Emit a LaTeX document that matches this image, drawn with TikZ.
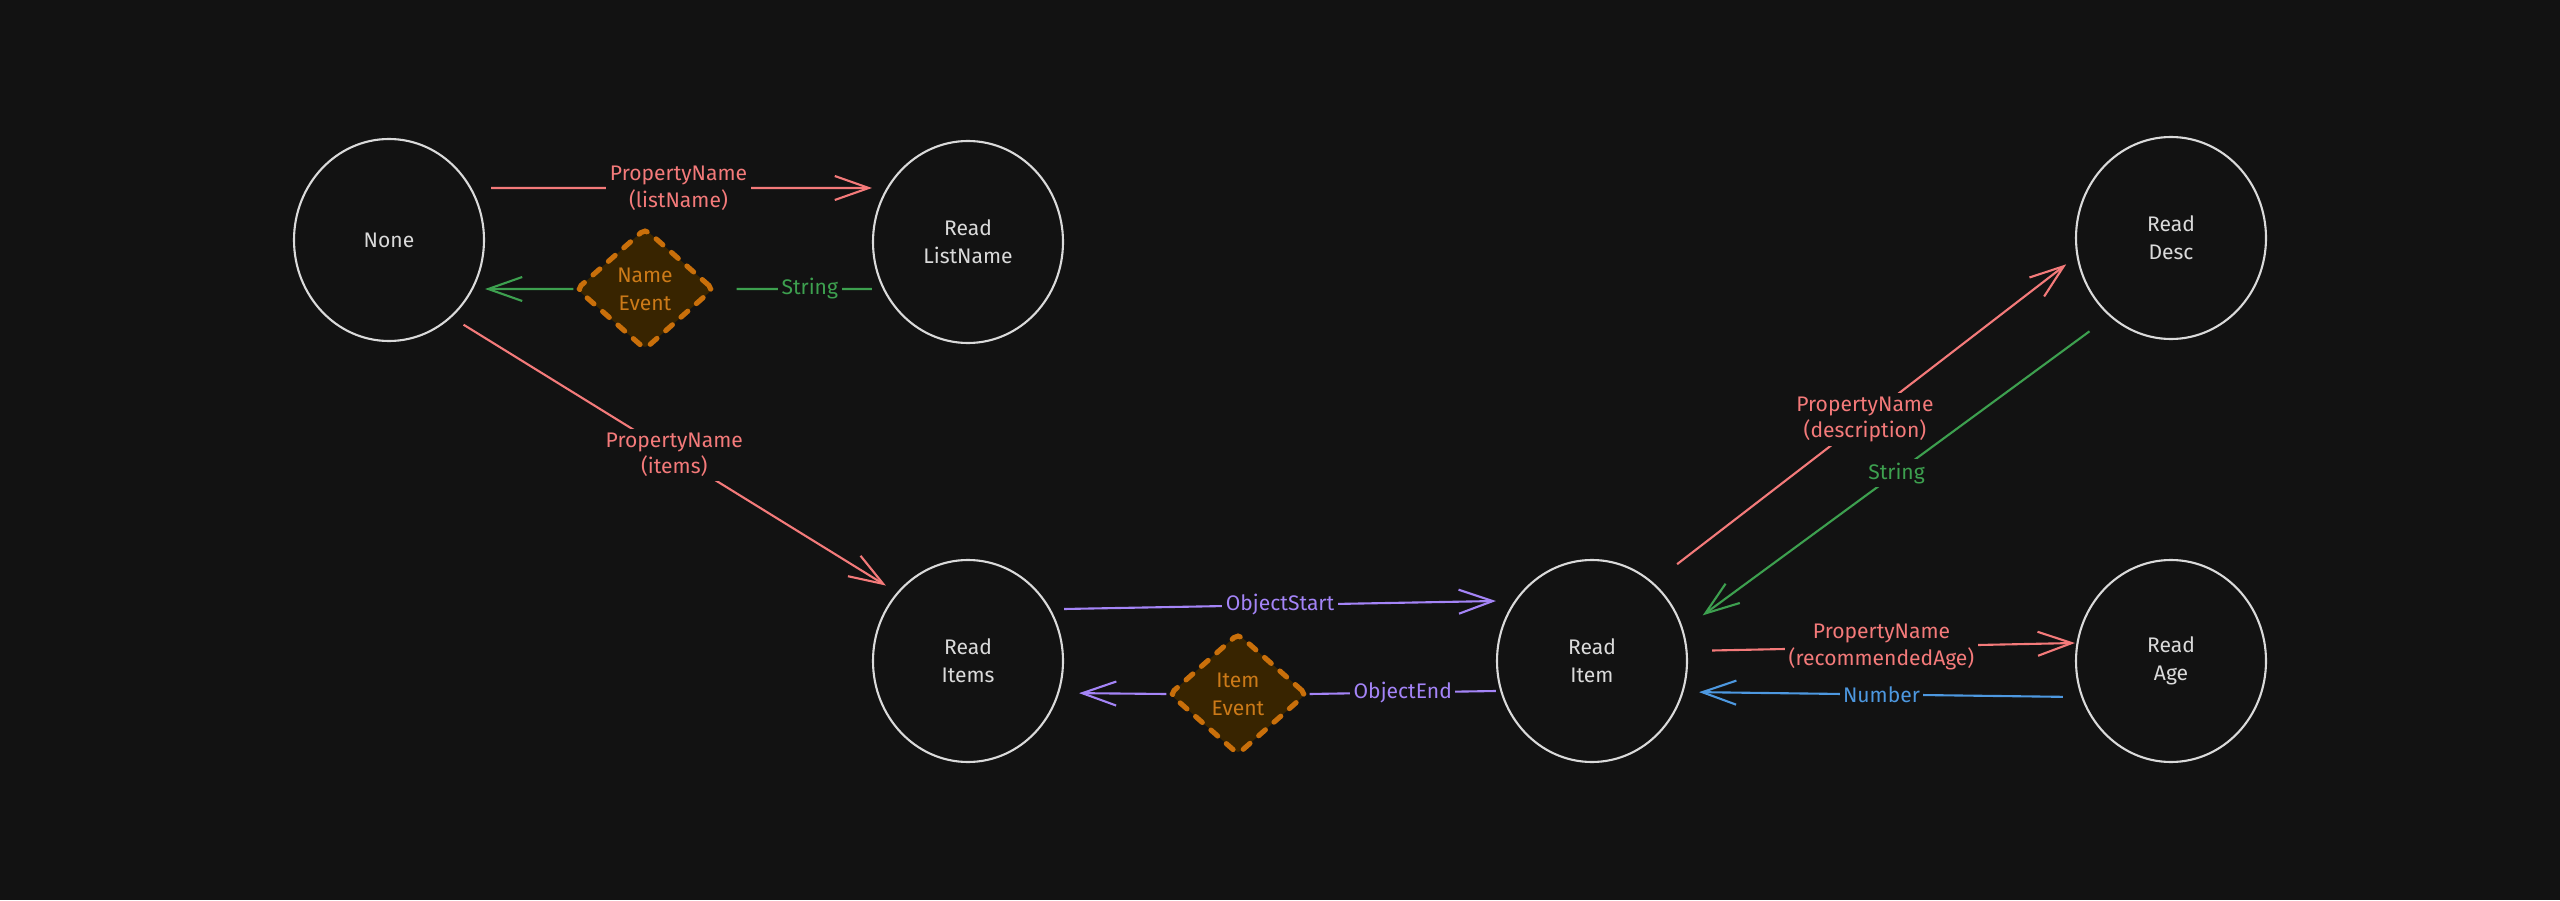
\documentclass[tikz,border=0pt]{standalone}
\usepackage{fontspec}
\setmainfont{Fira Sans}
\usetikzlibrary{calc,arrows.meta,positioning,shapes.geometric}

\definecolor{bg}{HTML}{121212}
\definecolor{stroke}{HTML}{DADADA}
\definecolor{pnred}{HTML}{F47A7A}
\definecolor{strgreen}{HTML}{3DA04F}
\definecolor{objpurple}{HTML}{A484F7}
\definecolor{numblue}{HTML}{4D98E0}
\definecolor{evorange}{HTML}{C96F0A}
\definecolor{evfill}{HTML}{382400}
\definecolor{evtext}{HTML}{CC7A18}

\tikzset{
  state/.style={ellipse, draw=stroke, line width=0.6pt, minimum width=1.9cm,
    minimum height=2.02cm, text=stroke, align=center,
    font=\fontsize{6}{8}\selectfont},
  event/.style={diamond, draw=evorange, fill=evfill, line width=1.45pt,
    dash pattern=on 0.9mm off 1.15mm, line cap=round, rounded corners=1.5pt,
    minimum width=1.38cm, minimum height=1.22cm, inner sep=0pt,
    text=evtext, align=center, font=\fontsize{6}{8}\selectfont},
  line/.style={line width=0.6pt},
  arrow/.style={line width=0.6pt, -{Straight Barb[length=3.4mm,width=2.4mm]}},
  lbl/.style={fill=bg, inner sep=1pt, align=center,
    font=\fontsize{6}{7.6}\selectfont},
}

\begin{document}
\begin{tikzpicture}

    \fill[bg] (0,0) rectangle (25.6,9);
    \useasboundingbox (0,0) rectangle (25.6,9);

    % states
    \node[state] (none)   at (3.89,6.60)  {None};
    \node[state] (rlist)  at (9.68,6.58)  {Read\\ListName};
    \node[state] (rdesc)  at (21.71,6.62) {Read\\Desc};
    \node[state] (ritems) at (9.68,2.39)  {Read\\Items};
    \node[state] (ritem)  at (15.92,2.39) {Read\\Item};
    \node[state] (rage)   at (21.71,2.39) {Read\\Age};

    % events
    \node[event] (nev) at (6.45,6.11)  {Name\\Event};
    \node[event] (iev) at (12.38,2.06) {Item\\Event};

    % top row
    \draw[arrow, pnred, shorten <=0.6mm] ([yshift=5.2mm]none.east)
        -- node[lbl] {PropertyName\\(listName)} ([yshift=5.4mm]rlist.west);
    \draw[line, strgreen, shorten >=2mm] ([yshift=-4.7mm]rlist.west)
        -- node[lbl, pos=0.4] {String} (nev.east);
    \draw[arrow, strgreen] (nev.west) -- ([yshift=-4.9mm]none.east);

    \draw[arrow, pnred, shorten <=1.4mm, shorten >=1.3mm] (none.-51.5)
        -- node[lbl] {PropertyName\\(items)} (ritems.136.8);

    % items <-> item
    \draw[arrow, objpurple] ([yshift=5.2mm]ritems.east)
        -- node[lbl] {ObjectStart} ([yshift=6.0mm]ritem.west);
    \draw[line, objpurple] ([yshift=-3.0mm]ritem.west)
        -- node[lbl] {ObjectEnd} (iev.east);
    \draw[arrow, objpurple, shorten >=1.5mm] (iev.west) -- ([yshift=-3.2mm]ritems.east);

    % item <-> desc
    \draw[arrow, pnred, shorten <=3mm, shorten >=1.3mm] (ritem.52.9)
        -- node[lbl] {PropertyName\\(description)} (rdesc.191.7);
    \draw[arrow, strgreen, shorten <=2.5mm, shorten >=2.4mm] (rdesc.232)
        -- node[lbl] {String} (ritem.19);

    % item <-> age
    \draw[arrow, pnred, shorten <=2.4mm] ([yshift=1.0mm]ritem.east)
        -- node[lbl] {PropertyName\\(recommendedAge)} ([yshift=1.8mm]rage.west);
    \draw[arrow, numblue, shorten <=1.2mm, shorten >=1.1mm] ([yshift=-3.6mm]rage.west)
        -- node[lbl] {Number} ([yshift=-3.1mm]ritem.east);

\end{tikzpicture}
\end{document}
